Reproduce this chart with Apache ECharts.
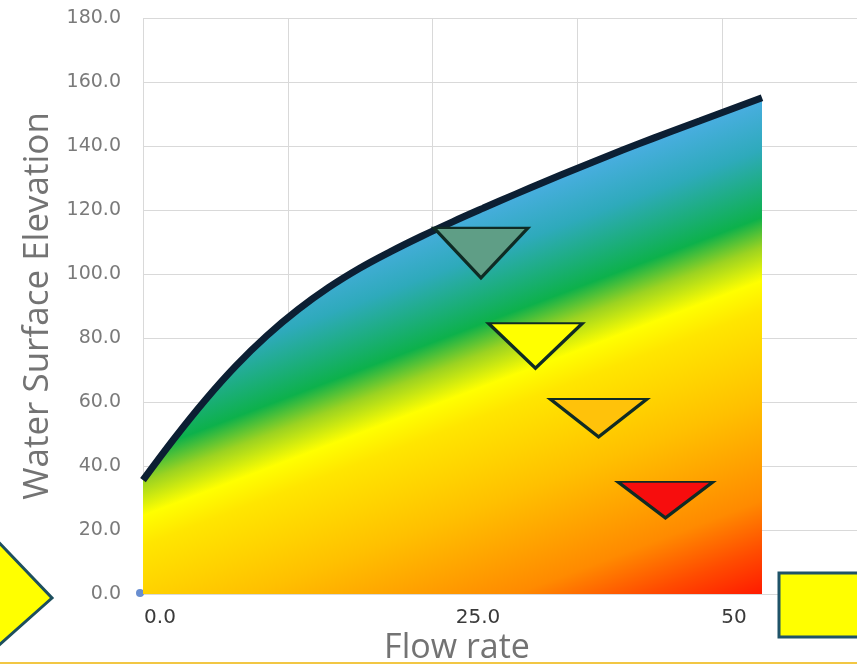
<!DOCTYPE html>
<html>
<head>
<meta charset="utf-8">
<title>Water Surface Elevation vs Flow rate</title>
<script src="https://cdn.jsdelivr.net/npm/echarts@6/dist/echarts.min.js"></script>
<style>
  html, body { margin: 0; padding: 0; background: #ffffff; }
  #chart { width: 857px; height: 664px; }
</style>
</head>
<body>
<div id="chart"></div>
<script>
// Rating curve: flow rate against water surface elevation
const flowRate = [0, 2.5, 5, 7.5, 10, 12.5, 15, 17.5, 20, 22.5, 25, 27.5, 30, 32.5, 35, 37.5, 40, 42.5, 45, 47.5, 50];
const waterSurface = [35.6, 48.5, 60.5, 71.3, 80.7, 88.8, 95.8, 101.8, 107.0, 111.8, 116.3, 120.6, 124.8, 128.9, 132.9, 136.8, 140.6, 144.3, 147.9, 151.5, 155.1];

// Level markers (inverted triangles) placed in flow / elevation units
const markerFlow = [27.3, 31.7, 36.8, 42.2];
const markerLevel = [106.6, 77.6, 55, 29.4];
const markerFill = ['#5f9e86', '#ffff00', '#ffc20a', '#f70d0d'];

// Origin point of the data set
const originPoint = [[0, 0]];

// Axis tick labels
const xTickLabels = ['0.0', '25.0', '50'];
const yTickDecimals = 1;

const FONT = '"Open Sans", "Liberation Sans", sans-serif';
const TICK_FONT = '"DejaVu Sans", sans-serif';

const chart = echarts.init(document.getElementById('chart'), null, { renderer: 'canvas' });

// the plot area runs off the right-hand edge of the page
const gridLeft = 143, gridTop = 18, gridHeight = 576;
const pxPerFlow = 12.38;
const xStep = 11.7;
const xMax = (857 - gridLeft) / pxPerFlow;

const curve = flowRate.map((f, i) => [f, waterSurface[i]]);
const markers = markerFlow.map((f, i) => ({
  value: [f, markerLevel[i]],
  itemStyle: { color: markerFill[i] }
}));
const markerSizes = [[94, 50], [94, 45], [97, 38], [95, 36]];

const xLabelPos = [160, 478, 734];

// diagonal fill (page coordinates): blue above, through green and yellow, to red at the lower right
const areaFill = new echarts.graphic.LinearGradient(600, 158, 765, 593, [
  { offset: 0, color: '#4aaee2' },
  { offset: 0.107, color: '#2eaabb' },
  { offset: 0.243, color: '#0db14b' },
  { offset: 0.303, color: '#9cd321' },
  { offset: 0.37, color: '#ffff00' },
  { offset: 0.43, color: '#ffe600' },
  { offset: 0.527, color: '#ffd200' },
  { offset: 0.61, color: '#ffc000' },
  { offset: 0.812, color: '#ff8a00' },
  { offset: 0.912, color: '#ff4b00' },
  { offset: 1, color: '#ff1a00' }
], true);

const option = {
  animation: false,
  backgroundColor: '#ffffff',
  grid: { left: gridLeft, top: gridTop, right: 0, height: gridHeight, containLabel: false },
  xAxis: {
    type: 'value', min: 0, max: xMax, interval: xStep,
    axisLine: { show: false }, axisTick: { show: false }, axisLabel: { show: false },
    splitLine: { show: true, lineStyle: { color: '#d9d9d9', width: 1 } }
  },
  yAxis: {
    type: 'value', min: 0, max: 180, interval: 20,
    axisLine: { show: false }, axisTick: { show: false },
    axisLabel: {
      formatter: v => v.toFixed(yTickDecimals),
      color: '#7a7a7a', fontSize: 19, fontFamily: TICK_FONT, margin: 22
    },
    splitLine: { show: true, lineStyle: { color: '#d9d9d9', width: 1 } },
    name: 'Water Surface Elevation', nameLocation: 'middle', nameGap: 85,
    nameTextStyle: { fontSize: 35, color: '#737373', fontFamily: FONT }
  },
  series: [
    {
      type: 'scatter', data: originPoint, symbolSize: 8, symbolOffset: [-3, -1], z: 1,
      itemStyle: { color: '#4472c4' }, silent: true
    },
    {
      type: 'line', data: curve, smooth: 0.4, showSymbol: false, clip: false, z: 2,
      lineStyle: { color: '#0c1f33', width: 7 },
      areaStyle: { opacity: 1, color: areaFill }
    },
    {
      type: 'scatter', z: 3, silent: true,
      data: markers,
      symbol: 'path://M0,0L100,0L50,100Z',
      symbolSize: (val, params) => markerSizes[params.dataIndex],
      itemStyle: { borderColor: '#0f2b24', borderWidth: 3, opacity: 1 }
    }
  ],
  graphic: [
    // bottom rule
    { type: 'line', shape: { x1: 0, y1: 663, x2: 857, y2: 663 }, style: { stroke: '#f2c744', lineWidth: 2 }, z: 10 },
    // side shapes
    { type: 'polygon', shape: { points: [[-12, 531], [52, 598], [-12, 655]] },
      style: { fill: '#ffff00', stroke: '#1d4f5e', lineWidth: 3 }, z: 10 },
    { type: 'rect', shape: { x: 779, y: 573, width: 200, height: 64 },
      style: { fill: '#ffff00', stroke: '#1f5368', lineWidth: 3 }, z: 10 },
    // x tick labels
    ...xTickLabels.map((t, i) => ({
      type: 'text', x: xLabelPos[i], y: 618, z: 10,
      style: { text: t, fontSize: 20, fontFamily: TICK_FONT, fill: '#3a3a3a', align: 'center', verticalAlign: 'middle' }
    })),
    // x axis title
    { type: 'text', x: 457, y: 648, z: 10,
      style: { text: 'Flow rate', fontSize: 34, fontFamily: FONT, fill: '#737373', align: 'center', verticalAlign: 'middle' } }
  ]
};

chart.setOption(option);
</script>
</body>
</html>
